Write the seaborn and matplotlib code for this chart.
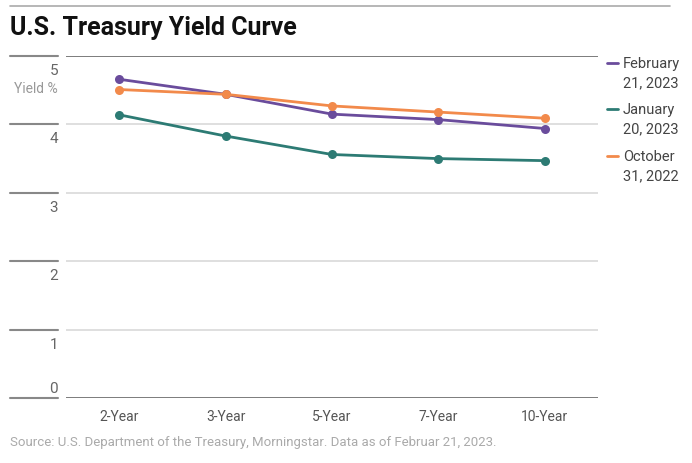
import matplotlib
matplotlib.use('Agg')
import matplotlib.pyplot as plt
import matplotlib.transforms as mtransforms
from matplotlib.lines import Line2D
import pandas as pd
import seaborn as sns

# Data
maturities = ['2-Year', '3-Year', '5-Year', '7-Year', '10-Year']
feb_2023 = [4.66, 4.44, 4.15, 4.07, 3.94]
jan_2023 = [4.14, 3.83, 3.56, 3.50, 3.47]
oct_2022 = [4.51, 4.44, 4.27, 4.18, 4.09]
series_names = ['February\n21, 2023', 'January\n20, 2023', 'October\n31, 2022']
y_ticks = [0, 1, 2, 3, 4, 5]

colors = ['#6a4c9c', '#2d7b74', '#f28a4b']

df = pd.DataFrame({
    'Maturity': maturities * 3,
    'Yield': feb_2023 + jan_2023 + oct_2022,
    'Series': [series_names[0]] * 5 + [series_names[1]] * 5 + [series_names[2]] * 5,
})

sns.set_style('white')
plt.rcParams['font.family'] = ['Roboto', 'DejaVu Sans']

W, H = 692, 464
fig = plt.figure(figsize=(W / 100, H / 100), dpi=100)
ax = fig.add_axes([66 / W, (H - 399) / H, 532 / W, 342 / H])

# light grid inside the plot, darker top/bottom lines
for v in y_ticks:
    c = '#666666' if v in (0, 5) else '#d9d9d9'
    ax.axhline(v, color=c, lw=1.2, zorder=0)

sns.lineplot(data=df, x='Maturity', y='Yield', hue='Series', palette=colors,
             marker='o', markersize=6.5, markeredgewidth=0, linewidth=2,
             sort=False, legend=False, ax=ax)

ax.set_xlim(-0.5, len(maturities) - 0.5)
ax.set_ylim(0, 5)
ax.set_yticks([])
ax.set_xlabel('')
ax.set_ylabel('')
for s in ax.spines.values():
    s.set_visible(False)
ax.tick_params(axis='x', length=0, pad=8, labelsize=10, labelcolor='#555555')

# left segments + y tick labels (labels sit just under each line)
trans = mtransforms.blended_transform_factory(fig.transFigure, ax.transData)
below = mtransforms.offset_copy(trans, fig=fig, y=-7, units='dots')
above = mtransforms.offset_copy(trans, fig=fig, y=3, units='dots')
for v in y_ticks:
    fig.add_artist(Line2D([10 / W, 58 / W], [v, v], transform=trans,
                          color='#888888', lw=1.5))
    if v > 0:
        fig.text(58 / W, v, str(v), transform=below, ha='right', va='top',
                 fontsize=11, color='#666666')
    else:
        fig.text(58 / W, v, str(v), transform=above, ha='right', va='bottom',
                 fontsize=11, color='#666666')

yl = mtransforms.offset_copy(trans, fig=fig, y=-25, units='dots')
fig.text(58 / W, 5, 'Yield %', transform=yl, ha='right', va='top',
         fontsize=10, color='#999999')

# top rule
fig.add_artist(Line2D([10 / W, 670 / W], [1 - 7 / H, 1 - 7 / H],
                      transform=fig.transFigure, color='#aaaaaa', lw=1.2))

fig.text(10 / W, 1 - 28 / H, 'U.S. Treasury Yield Curve', fontsize=18,
         fontweight='bold', color='#111111', va='center', ha='left')

# legend
legend_y = [64, 110, 157]
for name, col, yy in zip(series_names, colors, legend_y):
    fig.add_artist(Line2D([607 / W, 618 / W], [1 - yy / H, 1 - yy / H],
                          transform=fig.transFigure, color=col, lw=2))
    fig.text(623 / W, 1 - (yy - 7) / H, name, fontsize=10.5, color='#444444',
             va='top', ha='left', linespacing=1.5)

fig.text(10 / W, 1 - 443 / H,
         'Source: U.S. Department of the Treasury, Morningstar. Data as of Februar 21, 2023.',
         fontsize=9.5, color='#aaaaaa', va='center', ha='left')

fig.savefig('out.png', dpi=100)
